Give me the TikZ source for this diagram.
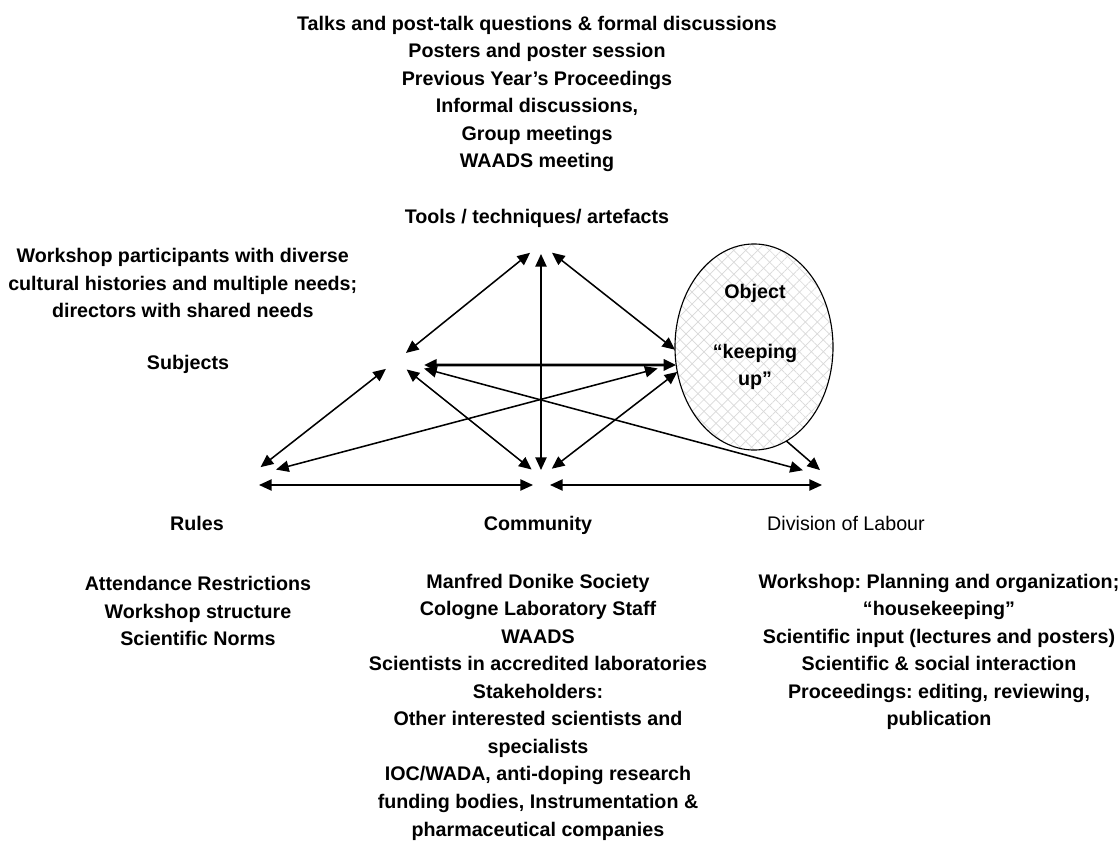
\documentclass[tikz,border=0pt]{standalone}
\usepackage{fontspec}
\setmainfont{Liberation Sans}
\usetikzlibrary{arrows.meta,shapes.geometric,patterns.meta}
\frenchspacing

\begin{document}
\begin{tikzpicture}[x=0.025cm, y=-0.025cm, >={Triangle[length=9pt,width=8pt]}, line width=1.1pt,
  every node/.style={font=\fontsize{14}{19.6}\selectfont\bfseries, align=center, inner sep=0pt},
  objnode/.style={ellipse, draw, line width=0.8pt, minimum width=3.95cm, minimum height=5.15cm, outer sep=0pt,
    preaction={fill=white},
    preaction={pattern={Lines[angle=45,distance=6pt,line width=0.5pt]}, pattern color=gray!30},
    pattern={Lines[angle=-45,distance=6pt,line width=0.5pt]}, pattern color=gray!30}]

\useasboundingbox (0,0) rectangle (1120,841);

% Tools
\node (toolsnotes) at (537,94) {Talks and post-talk questions \& formal discussions\\Posters and poster session\\Previous Year’s Proceedings\\Informal discussions,\\Group meetings\\WAADS meeting};
\node (tools) at (537,218) {Tools / techniques/ artefacts};

% Subjects
\node[anchor=east] (subjnotes) at (358,283) {Workshop participants with diverse\\cultural histories and multiple needs;\\directors with shared needs};
\node (subjects) at (188,364) {Subjects};

% Object
\node[objnode] (O) at (754,347) {};
\node (objtitle) at (755,293) {Object};
\node (objgoal) at (755,367) {“keeping\\up”};

% Rules, community, division of labour
\node[anchor=base] (rules) at (197,530) {Rules};
\node[anchor=base] (community) at (538,530) {Community};
\node[anchor=base, font=\fontsize{14}{19.6}\selectfont] (division) at (846,530) {Division of Labour};
\node (rulesnotes) at (198,611) {Attendance Restrictions\\Workshop structure\\Scientific Norms};
\node (commnotes) at (538,707) {Manfred Donike Society\\Cologne Laboratory Staff\\WAADS\\Scientists in accredited laboratories\\Stakeholders:\\Other interested scientists and\\specialists\\IOC/WADA, anti-doping research\\funding bodies, Instrumentation \&\\pharmaceutical companies};
\node (divnotes) at (939,652) {Workshop: Planning and organization;\\“housekeeping”\\Scientific input (lectures and posters)\\Scientific \& social interaction\\Proceedings: editing, reviewing,\\publication};

% Hubs of the triangle
\coordinate (T) at (541,244);
\coordinate (S) at (396,361);
\coordinate (R) at (248,477);
\coordinate (C) at (541,477);
\coordinate (D) at (828,477);

% Links
\draw[<->, shorten <=3.5mm, shorten >=3.2mm] (T) -- (S);
\draw[<->, shorten <=2.5mm, shorten >=1.75mm] (T) -- (C);
\draw[<->, shorten <=3.5mm] (T) -- (O.182);
\draw[<->, line width=2pt, shorten <=7mm] ([yshift=-1mm]S) -- (O.193);
\draw[<->, shorten <=4mm, shorten >=3.2mm] (R) -- (S);
\draw[<->, shorten <=3.4mm, shorten >=3mm] (S) -- (C);
\draw[<->, shorten <=7.25mm, shorten >=6.5mm] (S) -- (D);
\draw[<->, shorten <=7.25mm, shorten >=4.75mm] (R) -- (O.192);
\draw[<->, shorten <=3.4mm] (C) -- (O.198);
\draw[->, shorten >=2.65mm] (O.289) -- (D);
\draw[<->, shorten <=2.75mm, shorten >=2mm] ([yshift=-2mm]R) -- ([yshift=-2mm]C);
\draw[<->, shorten <=2.25mm, shorten >=1.5mm] ([yshift=-2mm]C) -- ([yshift=-2mm]D);

\end{tikzpicture}
\end{document}
